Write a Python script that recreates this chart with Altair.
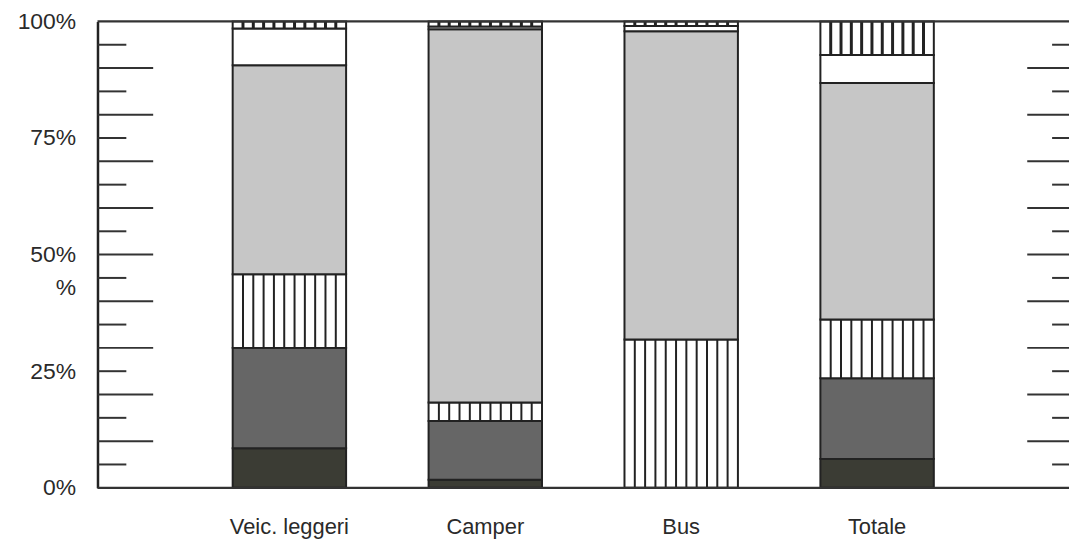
import altair as alt
import pandas as pd

# ---- data (percent of each bar, bottom to top) ----
categories = ["Veic. leggeri", "Camper", "Bus", "Totale"]
segment_names = ["scuro", "grigio scuro", "righe", "grigio chiaro", "bianco", "ondulato"]
dark_solid = [8.5, 1.7, 0.0, 6.2]
dark_grey = [21.5, 12.6, 0.0, 17.3]
stripes = [15.8, 4.0, 31.8, 12.6]
light_grey = [44.8, 80.0, 66.1, 50.7]
white = [7.9, 0.6, 1.1, 6.0]
wavy = [1.5, 1.1, 1.0, 7.2]

# axis labels (value, text) and minor/major tick values
y_label_values = [0, 25, 43, 50, 75, 100]
y_label_texts = ["0%", "25%", "%", "50%", "75%", "100%"]
short_ticks = [5, 15, 25, 35, 45, 55, 65, 75, 85, 95]
long_ticks = [10, 20, 30, 40, 50, 60, 70, 80, 90]
frame_lines = [0, 100]
stripe_count = 12

# ---- styles ----
W, H = 977, 469
seg_colors = ["#3b3c34", "#666666", "#ffffff", "#c6c6c6", "#ffffff", "#ffffff"]
ink = "#222222"
FONT = "Liberation Sans"

series = [dark_solid, dark_grey, stripes, light_grey, white, wavy]
rows = []
for ci, cat in enumerate(categories):
    base = 0.0
    for si, name in enumerate(segment_names):
        v = series[si][ci]
        rows.append({"cat": cat, "seg": name, "y0": base, "y1": base + v})
        base += v
bars_df = pd.DataFrame(rows)

stripe_rows = []
for r in rows:
    if r["seg"] in ("righe", "ondulato") and r["y1"] > r["y0"]:
        for k in range(1, stripe_count - 1):
            stripe_rows.append({"cat": r["cat"], "seg": r["seg"],
                                "frac": k / (stripe_count - 1),
                                "y0": r["y0"], "y1": r["y1"]})
stripes_df = pd.DataFrame(stripe_rows)

expr = "''"
for v, t in zip(y_label_values, y_label_texts):
    expr = f"datum.value == {v} ? '{t}' : ({expr})"

x_scale = alt.Scale(domain=categories, paddingInner=0.421, paddingOuter=0.69)
y_scale = alt.Scale(domain=[0, 100], nice=False, zero=True)
x_axis = alt.Axis(title=None, labelAngle=0, domain=False, ticks=False,
                  labelFontSize=22, labelFont=FONT, labelColor="#2a2a2a",
                  labelPadding=29)
y_axis = alt.Axis(title=None, values=y_label_values, labelExpr=expr,
                  domain=True, domainColor=ink, domainWidth=2.5, ticks=False,
                  grid=False, labelFontSize=23, labelFont=FONT,
                  labelColor="#2a2a2a", labelPadding=22, labelOverlap=False,
                  labelFlush=False, labelBaseline="middle")

bars = alt.Chart(bars_df).mark_bar(stroke=ink, strokeWidth=2).encode(
    x=alt.X("cat:N", sort=categories, scale=x_scale, axis=x_axis),
    y=alt.Y("y0:Q", scale=y_scale, axis=y_axis),
    y2="y1:Q",
    fill=alt.Fill("seg:N", scale=alt.Scale(domain=segment_names, range=seg_colors),
                  legend=None),
)

stripe_lines = alt.Chart(stripes_df).mark_rule(
    color=ink, xOffset=alt.expr("datum.frac * bandwidth('x')")).encode(
    x=alt.X("cat:N", sort=categories, scale=x_scale, axis=x_axis, bandPosition=0),
    y=alt.Y("y0:Q", scale=y_scale, axis=y_axis),
    y2="y1:Q",
    strokeWidth=alt.StrokeWidth("seg:N", scale=alt.Scale(domain=["righe", "ondulato"],
                                                          range=[2.0, 3.0]), legend=None),
)

frame = alt.Chart(pd.DataFrame({"v": frame_lines})).mark_rule(
    color="#333333", strokeWidth=2.2).encode(
    y=alt.Y("v:Q", scale=y_scale, axis=y_axis), x=alt.value(0), x2=alt.value(W))

sdf = pd.DataFrame({"v": short_ticks})
ldf = pd.DataFrame({"v": long_ticks})
tick_style = dict(color="#333333", strokeWidth=2)
left_short = alt.Chart(sdf).mark_rule(**tick_style).encode(
    y=alt.Y("v:Q", scale=y_scale, axis=y_axis), x=alt.value(0), x2=alt.value(29))
left_long = alt.Chart(ldf).mark_rule(**tick_style).encode(
    y=alt.Y("v:Q", scale=y_scale, axis=y_axis), x=alt.value(0), x2=alt.value(56))
right_short = alt.Chart(sdf).mark_rule(**tick_style).encode(
    y=alt.Y("v:Q", scale=y_scale, axis=y_axis), x=alt.value(W - 17), x2=alt.value(W))
right_long = alt.Chart(ldf).mark_rule(**tick_style).encode(
    y=alt.Y("v:Q", scale=y_scale, axis=y_axis), x=alt.value(W - 42), x2=alt.value(W))

chart = alt.layer(bars, stripe_lines, frame, left_short, left_long,
                  right_short, right_long).properties(
    width=W, height=H,
    autosize=alt.AutoSizeParams(type="none"),
    padding={"left": 90, "top": 12, "right": 0, "bottom": 50},
    background="white",
).configure_view(stroke=None)

chart.save("out.html", embed_options={"renderer": "svg", "actions": False})
